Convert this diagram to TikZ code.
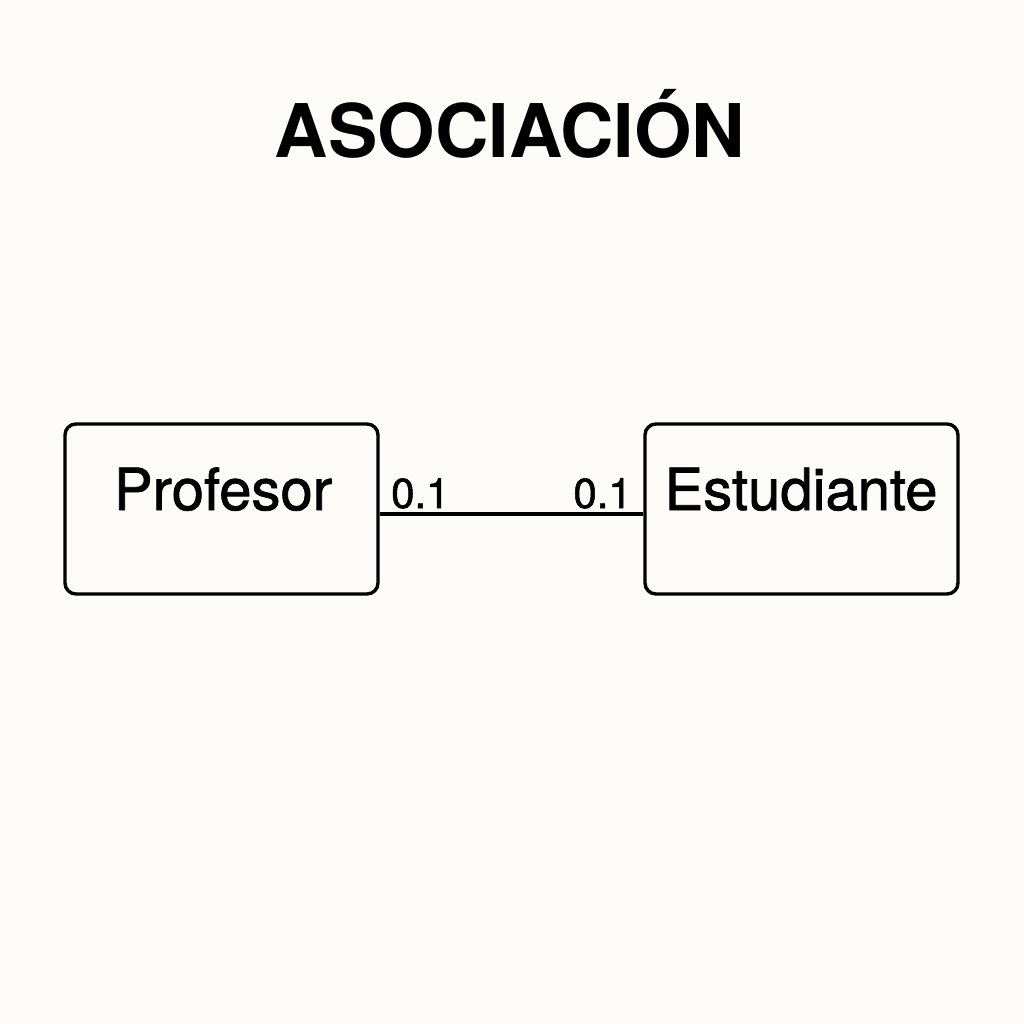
\documentclass[tikz,border=0pt]{standalone}
\usepackage{fontspec}
\setmainfont{TeX Gyre Heros}
\newfontfamily\medfont[FakeBold=1.3]{TeX Gyre Heros}
\definecolor{bg}{HTML}{FDFCF9}
\begin{document}
\begin{tikzpicture}[x=1pt,y=-1pt,
  cls/.style={draw=black,line width=3.4pt,rounded corners=11pt,minimum width=313pt,minimum height=170pt,inner sep=0pt},
  lbl/.style={font=\medfont\fontsize{58}{68}\selectfont,anchor=base,inner sep=0pt},
  mult/.style={font=\medfont\fontsize{42}{48}\selectfont,inner sep=0pt,anchor=base}]
\fill[bg] (0,0) rectangle (1024,1024);
\useasboundingbox (0,0) rectangle (1024,1024);
\node[font=\bfseries\fontsize{74}{88}\selectfont,anchor=base,inner sep=0pt] (title) at (510,158) {ASOCIACIÓN};
\node[cls] (prof) at (221.5,509) {};
\node[lbl] (proft) at (223,510) {Profesor};
\node[cls] (est) at (801.5,509) {};
\node[lbl] (estt) at (801,510) {Estudiante};
\draw[line width=3.4pt] (prof.east |- 0,514) coordinate (a) -- (est.west |- 0,514) coordinate (b);
\node[mult,anchor=base west] (m1) at (391,508) {0.1};
\node[mult,anchor=base east] (m2) at (632,508) {0.1};
\end{tikzpicture}
\end{document}
